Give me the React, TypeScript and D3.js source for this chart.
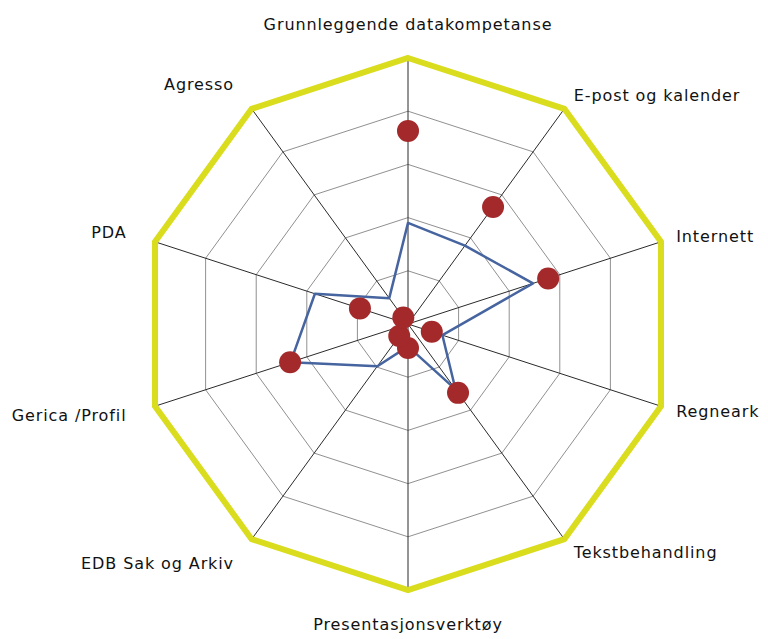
import React from 'react';
import * as d3 from 'd3';

const categories = [
  'Grunnleggende datakompetanse',
  'E-post og kalender',
  'Internett',
  'Regneark',
  'Tekstbehandling',
  'Presentasjonsverktøy',
  'EDB Sak og Arkiv',
  'Gerica /Profil',
  'PDA',
  'Agresso',
];

// red markers
const markerValues = [3.63, 2.72, 2.77, 0.47, 1.6, 0.45, 0.28, 2.33, 0.95, 0.15];
// blue line
const lineValues = [1.9, 1.82, 2.47, 0.68, 1.52, 0.42, 0.98, 2.32, 1.84, 0.6];

const ringTicks = [1, 2, 3, 4];
const maxValue = 5;

const App = () => {
  const width = 768;
  const height = 639;
  const cx = 408;
  const cy = 324;
  const R = 266;

  const n = categories.length;
  const angle = d3.scaleLinear().domain([0, n]).range([0, 2 * Math.PI]);
  const r = d3.scaleLinear().domain([0, maxValue]).range([0, R]);

  const pt = (i: number, v: number): [number, number] => {
    const a = angle(i);
    return [cx + r(v) * Math.sin(a), cy - r(v) * Math.cos(a)];
  };

  const ring = (v: number) =>
    d3.line()(d3.range(n).map(i => pt(i, v))) + 'Z';

  const radarLine = d3
    .lineRadial<number>()
    .angle((_, i) => angle(i))
    .radius(d => r(d))
    .curve(d3.curveLinearClosed);

  const labelPos = (i: number) => {
    const a = angle(i);
    const s = Math.sin(a);
    const c = Math.cos(a);
    let anchor = 'middle';
    let pad = 16;
    if (s > 0.1) anchor = 'start';
    else if (s < -0.1) {
      anchor = 'end';
      pad = 30;
    } else pad = 34;
    const x = cx + (R + pad) * s;
    const y = cy - (R + pad) * c;
    return { x, y, anchor };
  };

  return (
    <svg
      width={width}
      height={height}
      style={{ position: 'absolute', left: 0, top: 0, background: '#fff' }}
      fontFamily="DejaVu Sans, Verdana, sans-serif"
      fontSize={16}
      letterSpacing={0.9}
    >
      {ringTicks.map(t => (
        <path key={t} d={ring(t)} fill="none" stroke="#909090" strokeWidth={1} />
      ))}
      {categories.map((_, i) => {
        const [x, y] = pt(i, maxValue);
        return <line key={i} x1={cx} y1={cy} x2={x} y2={y} stroke="#2a2a2a" strokeWidth={1} />;
      })}
      <path d={ring(maxValue)} fill="none" stroke="#dadc1e" strokeWidth={6} strokeLinejoin="miter" />

      <path
        d={radarLine(lineValues) || ''}
        transform={`translate(${cx},${cy})`}
        fill="none"
        stroke="#46649f"
        strokeWidth={2.5}
        strokeLinejoin="round"
      />

      {markerValues.map((v, i) => {
        const [x, y] = pt(i, v);
        return <circle key={i} cx={x} cy={y} r={11} fill="#a3292b" />;
      })}

      {categories.map((c, i) => {
        const { x, y, anchor } = labelPos(i);
        return (
          <text key={c} x={x} y={y} dy="0.35em" textAnchor={anchor} fill="#111">
            {c}
          </text>
        );
      })}
    </svg>
  );
};

export default App;
